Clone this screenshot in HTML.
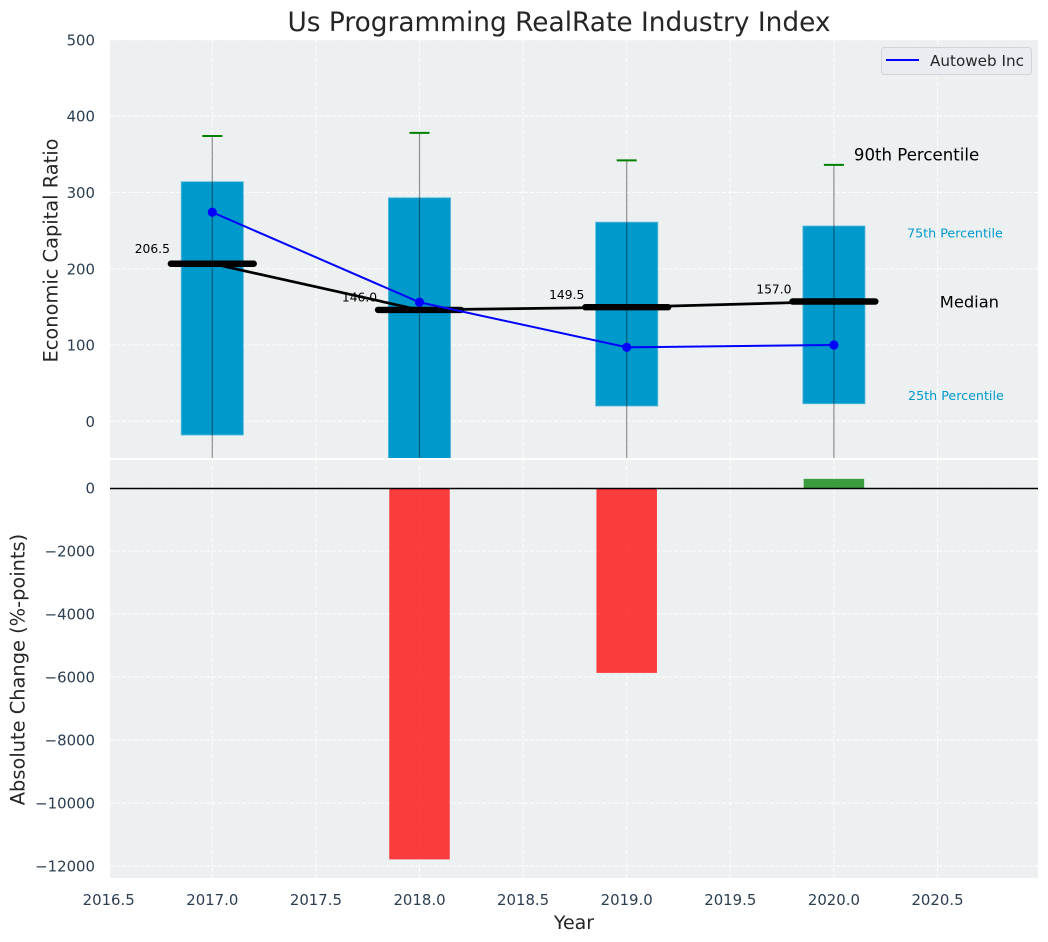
<!DOCTYPE html>
<html>
<head>
<meta charset="utf-8">
<title>Us Programming RealRate Industry Index</title>
<style>
html,body{margin:0;padding:0;background:#fff;}
svg{display:block;font-family:"DejaVu Sans","Liberation Sans",sans-serif;}
</style>
</head>
<body>
<svg id="chart" xmlns="http://www.w3.org/2000/svg" width="1048" height="942" viewBox="0 0 1048 942">
<defs>
<clipPath id="clip-top"><rect x="110" y="40" width="928" height="418"/></clipPath>
<clipPath id="clip-bottom"><rect x="110" y="460" width="928" height="418"/></clipPath>
</defs>
<text x="559" y="31" font-size="26.4" text-anchor="middle" fill="#262626">Us Programming RealRate Industry Index</text>
<text x="0" y="0" transform="translate(57.5 250.5) rotate(-90)" font-size="19.4" text-anchor="middle" fill="#262626">Economic Capital Ratio</text>
<text x="0" y="0" transform="translate(24.5 669.5) rotate(-90)" font-size="19.4" text-anchor="middle" fill="#262626">Absolute Change (%-points)</text>
<text x="574" y="929" font-size="19" text-anchor="middle" fill="#262626">Year</text>
</svg>
<script>
const years = [2017, 2018, 2019, 2020];
const p90 = [374, 378, 342, 336];
const p75 = [314, 293, 261, 256];
const medians = [206.5, 146.0, 149.5, 157.0];
const p25 = [-18, -60, 20, 23];
const p10 = [-90, -150, -70, -70];
const company = [274, 156, 97, 100];
const changes = [0, -11790, -5870, 290];
const xTicks = [2016.5, 2017.0, 2017.5, 2018.0, 2018.5, 2019.0, 2019.5, 2020.0, 2020.5];
const yTicksTop = [0, 100, 200, 300, 400, 500];
const yTicksBottom = [0, -2000, -4000, -6000, -8000, -10000, -12000];

const svg = document.getElementById('chart');
const NS = 'http://www.w3.org/2000/svg';
const xScale = v => 212.3 + (v - 2017) * 207.2;
const yTop = v => 421.3 - v * 0.763;
const yBottom = v => 488 - v * 0.0315;

function make(parent, tag, attrs, text) {
  const el = document.createElementNS(NS, tag);
  for (const k in attrs) el.setAttribute(k, attrs[k]);
  if (text !== undefined) el.textContent = text;
  parent.appendChild(el);
  return el;
}
function group(parent, clip) {
  const g = document.createElementNS(NS, 'g');
  if (clip) g.setAttribute('clip-path', 'url(#' + clip + ')');
  parent.appendChild(g);
  return g;
}
function pointsOf(vals, yf) {
  return vals.map((v, i) => xScale(years[i]) + ',' + yf(v)).join(' ');
}

const gridStyle = {stroke: '#ffffff', 'stroke-width': 1, 'stroke-dasharray': '4 2', opacity: 0.9};

/* top panel */
const bgTop = make(svg, 'rect', {x: 110, y: 40, width: 928, height: 418, fill: '#ecf0f1'});


const topPanel = group(svg, 'clip-top');



/* bottom panel */
const bgBottom = make(svg, 'rect', {x: 110, y: 460, width: 928, height: 418, fill: '#ecf0f1'});


const bottomPanel = group(svg, 'clip-bottom');



xTicks.forEach(t => {
  const a = make(topPanel, 'line', Object.assign({x1: xScale(t), x2: xScale(t), y1: 40, y2: 458}, gridStyle));
  
  
  const b = make(bottomPanel, 'line', Object.assign({x1: xScale(t), x2: xScale(t), y1: 460, y2: 878}, gridStyle));
  
  
  const lab = make(svg, 'text', {x: xScale(t), y: 905, 'font-size': 14.9, 'text-anchor': 'middle', fill: '#2c3e50'}, t.toFixed(1));
  
  
});
yTicksTop.forEach(t => {
  const a = make(topPanel, 'line', Object.assign({x1: 110, x2: 1038, y1: yTop(t), y2: yTop(t)}, gridStyle));
  
  
  const lab = make(svg, 'text', {x: 95, y: yTop(t) + 5.6, 'font-size': 14.9, 'text-anchor': 'end', fill: '#2c3e50'}, String(t));
  
  
});
yTicksBottom.forEach(t => {
  const a = make(bottomPanel, 'line', Object.assign({x1: 110, x2: 1038, y1: yBottom(t), y2: yBottom(t)}, gridStyle));
  
  
  const lab = make(svg, 'text', {x: 95, y: yBottom(t) + 5.6, 'font-size': 14.9, 'text-anchor': 'end', fill: '#2c3e50'}, String(t).replace('-', '\u2212'));
  
  
});

/* boxes, whiskers, caps */
years.forEach((yr, i) => {
  const box = make(topPanel, 'rect', {
    x: xScale(yr - 0.15), width: xScale(yr + 0.15) - xScale(yr - 0.15),
    y: yTop(p75[i]), height: yTop(p25[i]) - yTop(p75[i]),
    fill: '#0099cc', stroke: '#5cbcdc', 'stroke-width': 0.8
  });
  
  
  const whisker = make(topPanel, 'line', {
    x1: xScale(yr), x2: xScale(yr), y1: yTop(p90[i]), y2: yTop(p10[i]),
    stroke: '#000000', 'stroke-opacity': 0.42, 'stroke-width': 1.2
  });
  
  
  const cap = make(topPanel, 'line', {
    x1: xScale(yr) - 10, x2: xScale(yr) + 10, y1: yTop(p90[i]), y2: yTop(p90[i]),
    stroke: '#008000', 'stroke-width': 2
  });
  
  
});

/* medians */
const medLine = make(topPanel, 'polyline', {points: pointsOf(medians, yTop), fill: 'none', stroke: '#000000', 'stroke-width': 2.7});


years.forEach((yr, i) => {
  const m = make(topPanel, 'line', {
    x1: xScale(yr - 0.2), x2: xScale(yr + 0.2), y1: yTop(medians[i]), y2: yTop(medians[i]),
    stroke: '#000000', 'stroke-width': 6.4, 'stroke-linecap': 'round'
  });
  
  
  const lab = make(topPanel, 'text', {
    x: xScale(yr) - 60, y: yTop(medians[i]) - (i === 0 ? 15 : 12.5) + 4.3,
    'font-size': 12.3, 'text-anchor': 'middle', fill: '#000000'
  }, medians[i].toFixed(1));
  
  
});

/* company series */
const coLine = make(topPanel, 'polyline', {points: pointsOf(company, yTop), fill: 'none', stroke: '#0000ff', 'stroke-width': 2});


years.forEach((yr, i) => {
  const pt = make(topPanel, 'circle', {cx: xScale(yr), cy: yTop(company[i]), r: 4.6, fill: '#0000ff'});
  
  
});

/* annotations, anchored on the last box */
const last = years.length - 1;
const a90 = make(topPanel, 'text', {x: xScale(years[last]) + 20, y: yTop(p90[last]) - 10 + 5.8, 'font-size': 16.6, fill: '#000000'}, '90th Percentile');


const a75 = make(topPanel, 'text', {x: xScale(years[last]) + 121, y: yTop(p75[last]) + 7 + 4.4, 'font-size': 12.7, 'text-anchor': 'middle', fill: '#0099cc'}, '75th Percentile');


const aMed = make(topPanel, 'text', {x: xScale(years[last]) + 135.5, y: yTop(medians[last]) + 5.8, 'font-size': 16.3, 'text-anchor': 'middle', fill: '#000000'}, 'Median');


const a25 = make(topPanel, 'text', {x: xScale(years[last]) + 122, y: yTop(p25[last]) - 8 + 4.4, 'font-size': 12.7, 'text-anchor': 'middle', fill: '#0099cc'}, '25th Percentile');



/* change bars */
years.forEach((yr, i) => {
  const v = changes[i];
  const bar = make(bottomPanel, 'rect', {
    x: xScale(yr - 0.146), width: xScale(yr + 0.146) - xScale(yr - 0.146),
    y: Math.min(yBottom(v), yBottom(0)), height: Math.abs(yBottom(v) - yBottom(0)),
    fill: v < 0 ? '#ff0000' : '#008000', 'fill-opacity': 0.75
  });
  
  
});
const zero = make(bottomPanel, 'line', {x1: 110, x2: 1038, y1: yBottom(0) + 0.5, y2: yBottom(0) + 0.5, stroke: '#000000', 'stroke-width': 1.5});



/* legend */
const legend = group(svg);


const legendBox = make(legend, 'rect', {x: 881.5, y: 47.5, width: 150, height: 27, rx: 3, fill: '#eaecf1', stroke: '#d2d4d8', 'stroke-width': 1});


const legendLine = make(legend, 'line', {x1: 886, x2: 919, y1: 60, y2: 60, stroke: '#0000ff', 'stroke-width': 2});


const legendText = make(legend, 'text', {x: 930, y: 66, 'font-size': 15.2, fill: '#262626'}, 'Autoweb Inc');


</script>
</body>
</html>
